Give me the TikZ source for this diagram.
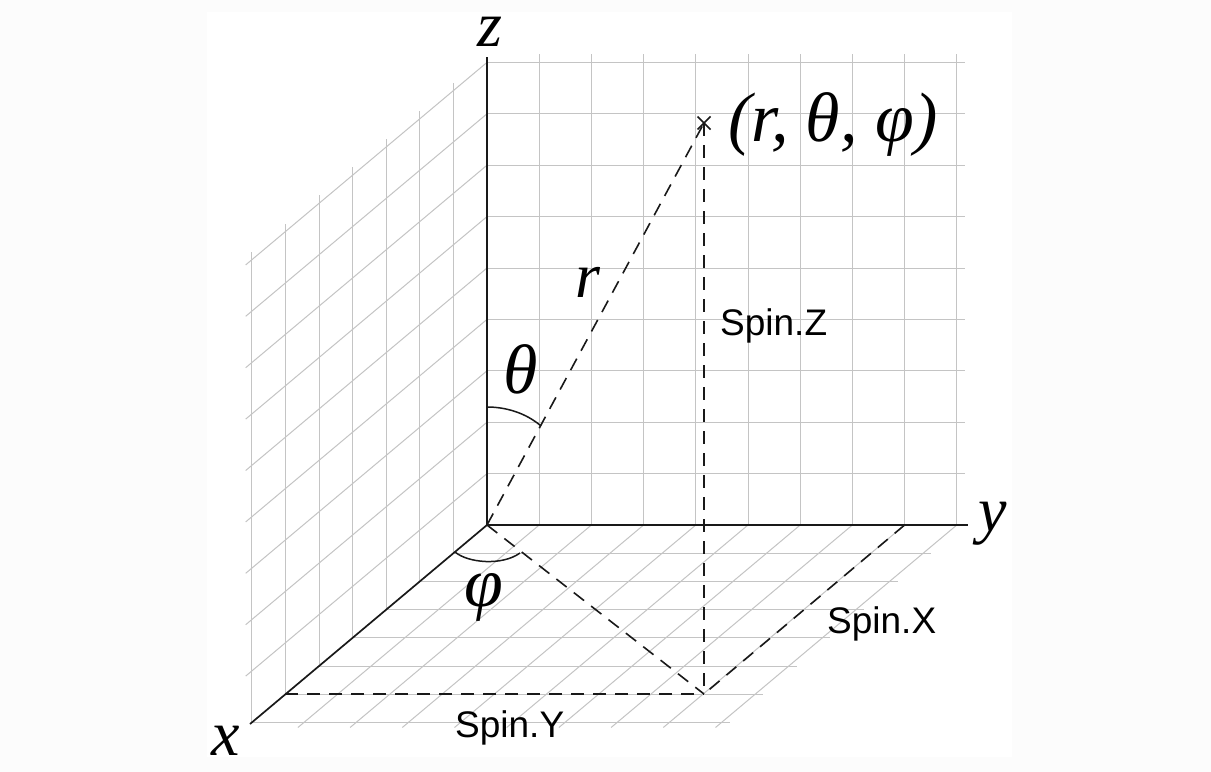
\documentclass[tikz,border=0pt]{standalone}
\usepackage{fontspec}
\setmainfont{Liberation Serif}
\newfontfamily\spinfont{Liberation Sans}
\definecolor{gridgray}{RGB}{196,196,196}
\definecolor{outerbg}{RGB}{252,252,252}
\definecolor{axisblack}{RGB}{25,25,25}
\begin{document}
\begin{tikzpicture}[x=1bp,y=-1bp,
  gridline/.style={draw=gridgray,line width=1bp},
  axisline/.style={draw=axisblack,line width=1.7bp},
  dashline/.style={draw=axisblack,line width=1.6bp,dash pattern=on 13bp off 9bp},
  anglearc/.style={draw=axisblack,line width=1.5bp},
  mathlabel/.style={inner sep=0pt,font=\fontsize{64bp}{70bp}\selectfont\itshape},
  greeklabel/.style={inner sep=0pt,font=\fontsize{70bp}{76bp}\selectfont\itshape},
  spinlabel/.style={inner sep=0pt,font=\fontsize{37bp}{40bp}\selectfont\spinfont}]
\useasboundingbox (0,0) rectangle (1211,772);
\fill[outerbg] (0,0) rectangle (1211,772);
\fill[white] (207,12) rectangle (1012,757);
% back wall (y-z plane)
\foreach \j in {1,...,9}
  \draw[gridline] ({487+52.2*\j},525) -- ({487+52.2*\j},54);
\foreach \k in {1,...,9}
  \draw[gridline] (487,{525-51.4*\k}) -- (965,{525-51.4*\k});
% left wall (x-z plane)
\foreach \i in {1,...,7}
  \draw[gridline] ({487-33.6*\i},{525+28.2*\i}) -- ({487-33.6*\i},{525+28.2*\i-462.6-8});
\foreach \k in {1,...,9}
  \draw[gridline] (487,{525-51.4*\k}) -- ({487-235.2-6.1},{525-51.4*\k+197.4+5.1});
% floor (x-y plane)
\foreach \i in {1,...,7}
  \draw[gridline] ({487-33.6*\i},{525+28.2*\i}) -- ({487-33.6*\i+469.8+8},{525+28.2*\i});
\foreach \j in {1,...,9}
  \draw[gridline] ({487+52.2*\j},525) -- ({487+52.2*\j-235.2-6.1},{525+197.4+5.1});
% named points
\coordinate (O) at (487,525);
\coordinate (zend) at (487,57);
\coordinate (yend) at (968,525);
\coordinate (xend) at (250,724);
\coordinate (P) at (704,123);
\coordinate (F) at (704,694);
\coordinate (Fy) at (904.6,525);
\coordinate (Fx) at (285.4,694);
% axes
\draw[axisline] (O) -- (zend);
\draw[axisline] (O) -- (yend);
\draw[axisline] (O) -- (xend);
% dashed construction
\draw[dashline] (O) -- (P);
\draw[dashline] (P) -- (F);
\draw[dashline] (O) -- (F);
\draw[dashline] (Fy) -- (F);
\draw[dashline] (Fx) -- (F);
% point marker
\draw[line width=1.5bp,axisblack] (P) ++(-6.5,-6.5) -- ++(13,13);
\draw[line width=1.5bp,axisblack] (P) ++(-6.5,6.5) -- ++(13,-13);
% angle arcs
\coordinate (thA) at (487,407);
\coordinate (thB) at (541,426);
\draw[anglearc] (thA) .. controls (506,407) and (526,413) .. (thB);
\coordinate (phA) at (455,552);
\coordinate (phB) at (520,553);
\draw[anglearc] (phA) .. controls (468,563) and (502,566) .. (phB);
% labels
\node[mathlabel,anchor=base,text height=0.45em,text depth=0pt] (lz) at (490,47) {z};
\node[mathlabel,anchor=base] (ly) at (993,531) {y};
\node[mathlabel,anchor=base] (lx) at (226,755) {x};
\node[mathlabel,anchor=base] (lr) at (588,297) {r};
\node[greeklabel,anchor=base] (lth) at (521,393) {θ};
\node[greeklabel,anchor=base] (lph) at (484,606) {φ};
\node[greeklabel,anchor=base west] (lP) at (728,141) {(r, θ, φ)};
\node[spinlabel,anchor=base west] (sz) at (720,335) {Spin.Z};
\node[spinlabel,anchor=base west] (sx) at (827,633) {Spin.X};
\node[spinlabel,anchor=base west] (sy) at (455,737) {Spin.Y};
\end{tikzpicture}
\end{document}
